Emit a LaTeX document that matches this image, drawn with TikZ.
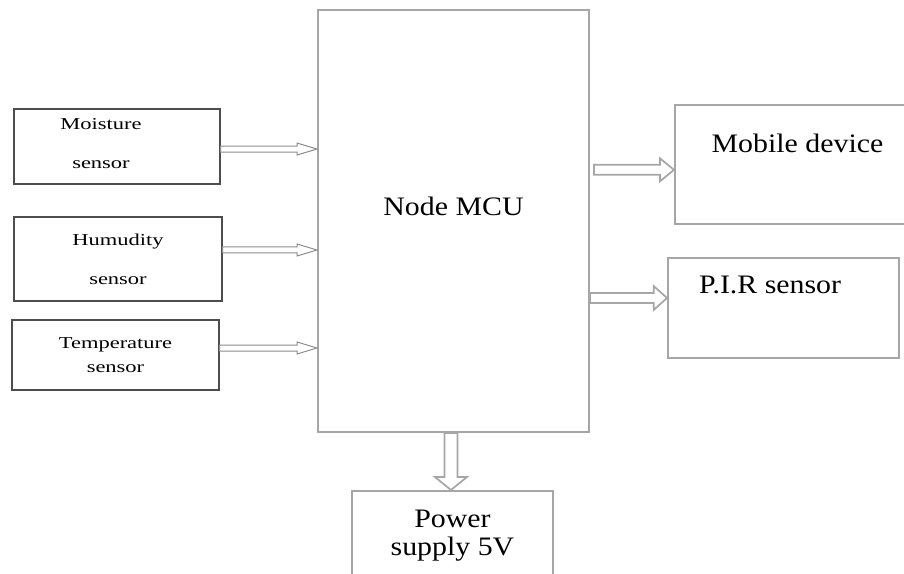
\documentclass[tikz,border=0pt]{standalone}
\usepackage{fontspec}
\setmainfont{Liberation Serif}
\newfontfamily\wideserif[FakeStretch=1.12]{Liberation Serif}
\newfontfamily\widerserif[FakeStretch=1.35]{Liberation Serif}
\usetikzlibrary{calc}

\definecolor{boxgray}{HTML}{A6A6A6}
\definecolor{sensgray}{HTML}{4D4D4D}
\definecolor{arrowgray}{HTML}{8C8C8C}

\begin{document}
\begin{tikzpicture}[
                x=0.75pt, y=-0.75pt,
                bigtext/.style={font=\wideserif\fontsize{20}{21}\selectfont},
                senstext/.style={align=center, font=\widerserif\fontsize{12.5}{15}\selectfont},
                sensbox/.style={draw=sensgray, line width=0.9pt, senstext},
                unitbox/.style={draw=boxgray, line width=1.5pt, align=center, bigtext},
                fatarrow/.style n args={4}{draw=#4, fill=white, line join=miter,
                        to path={let \p1=($(\tikztotarget)!#3!(\tikztostart)$) in
                                ($(\tikztostart)!#1!90:(\tikztotarget)$)
                                -- ($(\p1)!#1!90:(\tikztotarget)$)
                                -- ($(\p1)!#2!90:(\tikztotarget)$)
                                -- (\tikztotarget)
                                -- ($(\p1)!#2!-90:(\tikztotarget)$)
                                -- ($(\p1)!#1!-90:(\tikztotarget)$)
                                -- ($(\tikztostart)!#1!-90:(\tikztotarget)$)
                                -- cycle}}
            ]
            \useasboundingbox (0,0) rectangle (904,574);

            % sensors
            \node[sensbox, minimum width=154.5pt, minimum height=56.25pt,
                label={[senstext, xshift=-12pt, yshift=2pt]center:Moisture\\[14pt]sensor}] (moist) at (117,146.5) {};
            \node[sensbox, minimum width=156pt, minimum height=63pt] (humid) at (118,259)
                {Humudity\\[14pt]sensor};
            \node[sensbox, minimum width=155.25pt, minimum height=52.5pt] (temp) at (115.5,355)
                {Temperature\\[3pt]sensor};

            % controller and outputs
            \node[unitbox, minimum width=203.25pt, minimum height=316.5pt,
                label={[bigtext, yshift=11pt]center:Node MCU}] (mcu) at (453.5,221) {};
            \node[unitbox, minimum width=176.25pt, minimum height=89.25pt,
                label={[bigtext, xshift=3.75pt, yshift=16pt]center:Mobile device}] (mobile) at (792.5,164.5) {};
            \node[unitbox, minimum width=173.25pt, minimum height=75pt,
                label={[bigtext, xshift=-10pt, yshift=17pt]center:P.I.R sensor}] (pir) at (783.5,308) {};
            \node[unitbox, minimum width=150.75pt, minimum height=66.75pt] (power) at (452.5,535.5)
                {Power\\supply 5V};

            % arrows
            \draw[fatarrow={2.25pt}{4.5pt}{15pt}{arrowgray}, line width=0.75pt]
                ([yshift=-1.9pt]moist.east) to ([yshift=-1.9pt]moist.east -| mcu.west);
            \draw[fatarrow={2.25pt}{4.5pt}{15pt}{arrowgray}, line width=0.75pt]
                ([yshift=6.75pt]humid.east) to ([yshift=6.75pt]humid.east -| mcu.west);
            \draw[fatarrow={2.25pt}{4.5pt}{15pt}{arrowgray}, line width=0.75pt]
                ([yshift=5.25pt]temp.east) to ([yshift=5.25pt]temp.east -| mcu.west);
            \draw[fatarrow={3.75pt}{8.6pt}{10.5pt}{boxgray}, line width=1.3pt]
                ([xshift=3pt, yshift=-4pt]mcu.east |- mobile.west) to ([yshift=-4pt]mobile.west);
            \draw[fatarrow={3.75pt}{9pt}{10pt}{boxgray}, line width=1.3pt]
                ([yshift=7.5pt]mcu.east |- pir.west) to ([yshift=7.5pt]pir.west);
            \draw[fatarrow={4.9pt}{12pt}{9.75pt}{boxgray}, line width=1.3pt]
                ([xshift=-1.9pt]mcu.south) to ([xshift=-1.9pt]mcu.south |- power.north);

        \end{tikzpicture}
\end{document}
